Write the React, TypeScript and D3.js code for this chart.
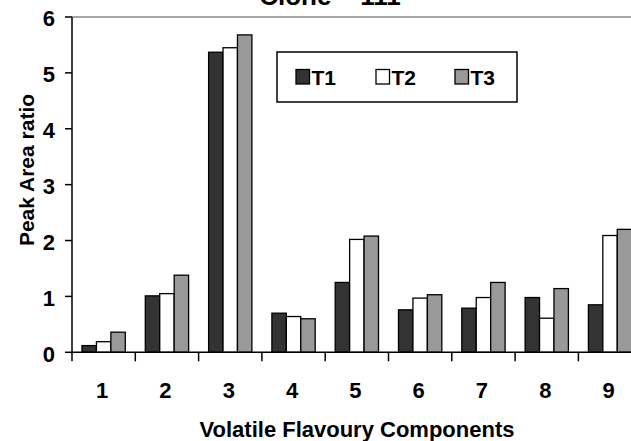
import React, { useEffect, useRef } from 'react';
import * as d3 from 'd3';

const categories = ['1', '2', '3', '4', '5', '6', '7', '8', '9'];
const seriesNames = ['T1', 'T2', 'T3'];
const t1 = [0.12, 1.01, 5.37, 0.7, 1.25, 0.76, 0.79, 0.98, 0.85];
const t2 = [0.19, 1.05, 5.45, 0.64, 2.02, 0.97, 0.98, 0.61, 2.09];
const t3 = [0.36, 1.38, 5.68, 0.6, 2.08, 1.03, 1.25, 1.14, 2.2];
const yTicks = [0, 1, 2, 3, 4, 5, 6];
const colors = ['#333333', '#ffffff', '#999999'];

export default function App() {
  const ref = useRef<SVGSVGElement>(null);

  useEffect(() => {
    const svg = d3.select(ref.current);
    svg.selectAll('*').remove();
    const font = 'Arial, "Liberation Sans", sans-serif';

    const left = 72;
    const bandW = 63.3;
    const top = 17;
    const bottom = 352.3;

    const x = d3
      .scaleBand()
      .domain(categories)
      .range([left, left + bandW * categories.length]);
    const y = d3.scaleLinear().domain([0, 6]).range([bottom, top]);
    const groupPad = 10;
    const xs = d3
      .scaleBand()
      .domain(seriesNames)
      .range([groupPad, bandW - groupPad]);

    // title, mostly above the top edge as in the original
    svg
      .append('text')
      .attr('x', 330)
      .attr('y', 5)
      .attr('text-anchor', 'middle')
      .style('font-family', font)
      .style('font-weight', 'bold')
      .style('font-size', '26px')
      .text('Clone – 111');

    // plot area top border
    svg
      .append('line')
      .attr('x1', left)
      .attr('x2', 631)
      .attr('y1', top)
      .attr('y2', top)
      .attr('stroke', '#888')
      .attr('stroke-width', 1.5);

    const data = [t1, t2, t3];
    data.forEach((vals, si) => {
      svg
        .append('g')
        .selectAll('rect')
        .data(vals)
        .enter()
        .append('rect')
        .attr('x', (d, i) => (x(categories[i]) as number) + (xs(seriesNames[si]) as number))
        .attr('y', d => y(d))
        .attr('width', xs.bandwidth())
        .attr('height', d => bottom - y(d))
        .attr('fill', colors[si])
        .attr('stroke', '#000')
        .attr('stroke-width', 1.3);
    });

    // y axis
    const yAxis = svg.append('g').attr('transform', `translate(${left},0)`);
    yAxis
      .append('line')
      .attr('x1', 0)
      .attr('x2', 0)
      .attr('y1', top)
      .attr('y2', bottom)
      .attr('stroke', '#000')
      .attr('stroke-width', 1.5);
    yTicks.forEach(t => {
      yAxis
        .append('line')
        .attr('x1', -7)
        .attr('x2', 0)
        .attr('y1', y(t))
        .attr('y2', y(t))
        .attr('stroke', '#000')
        .attr('stroke-width', 1.5);
      yAxis
        .append('text')
        .attr('x', -17)
        .attr('y', y(t) + 1.5)
        .attr('dy', '0.36em')
        .attr('text-anchor', 'end')
        .style('font-family', font)
        .style('font-weight', 'bold')
        .style('font-size', '22px')
        .text(t);
    });

    // x axis
    const xAxis = svg.append('g').attr('transform', `translate(0,${bottom})`);
    xAxis
      .append('line')
      .attr('x1', left)
      .attr('x2', 631)
      .attr('y1', 0)
      .attr('y2', 0)
      .attr('stroke', '#000')
      .attr('stroke-width', 1.5);
    categories.forEach(c => {
      xAxis
        .append('line')
        .attr('x1', x(c) as number)
        .attr('x2', x(c) as number)
        .attr('y1', 0)
        .attr('y2', 9)
        .attr('stroke', '#000')
        .attr('stroke-width', 1.5);
      xAxis
        .append('text')
        .attr('x', (x(c) as number) + x.bandwidth() / 2 - 1.5)
        .attr('y', 46)
        .attr('text-anchor', 'middle')
        .style('font-family', font)
        .style('font-weight', 'bold')
        .style('font-size', '22px')
        .text(c);
    });

    svg
      .append('text')
      .attr('x', 357)
      .attr('y', 436.5)
      .attr('text-anchor', 'middle')
      .style('font-family', font)
      .style('font-weight', 'bold')
      .style('font-size', '22px')
      .text('Volatile Flavoury Components');

    svg
      .append('text')
      .attr('transform', 'translate(34,170) rotate(-90)')
      .attr('text-anchor', 'middle')
      .style('font-family', font)
      .style('font-weight', 'bold')
      .style('font-size', '21px')
      .text('Peak Area ratio');

    // legend
    const lg = svg.append('g');
    lg.append('rect')
      .attr('x', 277)
      .attr('y', 52)
      .attr('width', 240)
      .attr('height', 50)
      .attr('fill', '#fff')
      .attr('stroke', '#000')
      .attr('stroke-width', 1.5);
    const lx = [296, 376, 455];
    seriesNames.forEach((s, i) => {
      lg.append('rect')
        .attr('x', lx[i])
        .attr('y', 69.5)
        .attr('width', 13.5)
        .attr('height', 14.5)
        .attr('fill', colors[i])
        .attr('stroke', '#000')
        .attr('stroke-width', 1.3);
      lg.append('text')
        .attr('x', lx[i] + 15.5)
        .attr('y', 85)
        .style('font-family', font)
        .style('font-weight', 'bold')
        .style('font-size', '21px')
        .text(s);
    });
  }, []);

  return (
    <svg
      ref={ref}
      width={631}
      height={441}
      style={{ position: 'absolute', left: 0, top: 0, background: '#fff' }}
    />
  );
}
